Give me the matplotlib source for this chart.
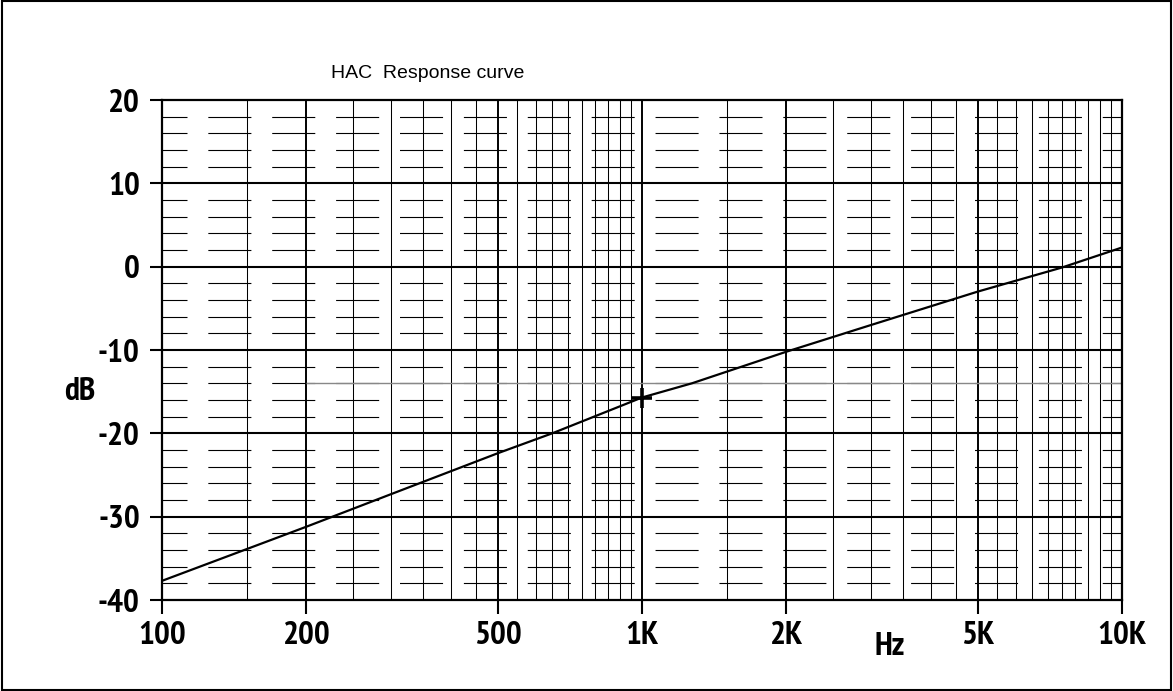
import matplotlib
matplotlib.use("Agg")
import matplotlib.pyplot as plt
from matplotlib.ticker import FixedLocator, NullFormatter
from matplotlib.patches import Rectangle

# response curve (Hz, dB)
freq_hz = [100, 150, 200, 300, 500, 650, 1000, 1270, 2000, 3000, 5000, 7500, 10000]
level_db = [-37.7, -33.9, -31.2, -27.3, -22.4, -20.0, -15.7, -14.0, -10.2, -7.0, -3.0, -0.1, 2.3]

# 1 kHz reference point
marker_f = [1000]
marker_db = [-15.7]

# grey reference level
ref_db = -14
ref_span = [200, 10000]

x_major = [100, 200, 500, 1000, 2000, 5000, 10000]
x_labels = ['100', '200', '500', '1K', '2K', '5K', '10K']
x_heavy = [200, 500, 1000, 2000, 5000]
x_minor = [f for f in list(range(150, 1000, 50)) + list(range(1000, 10000, 500))
           if f not in x_major]
y_major = [-40, -30, -20, -10, 0, 10, 20]
y_minor = [v for v in range(-38, 20, 2) if v % 10 != 0]

label_font = ['PT Sans Narrow', 'Liberation Sans', 'DejaVu Sans']

plt.rcParams['lines.scale_dashes'] = False
plt.rcParams['axes.unicode_minus'] = False

fig = plt.figure(figsize=(11.73, 6.91), dpi=100)
ax = fig.add_axes([162 / 1173, 91 / 691, 960 / 1173, 500 / 691])
ax.set_xscale('log')
ax.set_xlim(100, 10000)
ax.set_ylim(-40, 20)

# vertical grid
for f in x_minor:
    ax.axvline(f, color='black', lw=0.75, zorder=1)
for f in x_heavy:
    ax.axvline(f, color='black', lw=1.4, zorder=1)

# horizontal grid: broken lines every 2 dB, solid every 10 dB
for v in y_minor:
    ax.axhline(v, color='black', lw=0.8, linestyle=(13, (31, 15)), zorder=1)
for v in y_major[1:-1]:
    ax.axhline(v, color='black', lw=1.5, zorder=2)
ax.hlines(ref_db, ref_span[0], ref_span[1], color='#888888', lw=1.0, zorder=1)

ax.plot(freq_hz, level_db, color='black', lw=1.6, zorder=3)
ax.plot(marker_f, marker_db, marker='+', ms=14, mew=2.6, color='black',
        linestyle='none', zorder=4)

ax.set_xticks(x_major, x_labels)
ax.xaxis.set_minor_locator(FixedLocator(x_minor))
ax.xaxis.set_minor_formatter(NullFormatter())
ax.set_yticks(y_major)
ax.tick_params(which='minor', length=0)
ax.tick_params(axis='x', which='major', length=10, width=1.5, pad=5, labelsize=24)
ax.tick_params(axis='y', which='major', length=9, width=1.5, pad=7, labelsize=24)
for lbl in ax.get_xticklabels() + ax.get_yticklabels():
    lbl.set_fontfamily(label_font)
    lbl.set_fontweight('bold')

for sp in ax.spines.values():
    sp.set_linewidth(1.6)

fig.text(331 / 1173, 1 - 78 / 691, 'HAC  Response curve', fontsize=14,
         family=['Liberation Sans', 'DejaVu Sans'], ha='left', va='baseline')
fig.text(80 / 1173, 1 - 392 / 691, 'dB', fontsize=24, fontweight='bold',
         family=label_font, ha='center', va='center')
fig.text(890 / 1173, 1 - 647 / 691, 'Hz', fontsize=24, fontweight='bold',
         family=label_font, ha='center', va='center')

fig.add_artist(Rectangle((0.0015, 0.002), 0.997, 0.996, transform=fig.transFigure,
                         fill=False, ec='black', lw=1.5))

fig.savefig('out.png', dpi=100)
